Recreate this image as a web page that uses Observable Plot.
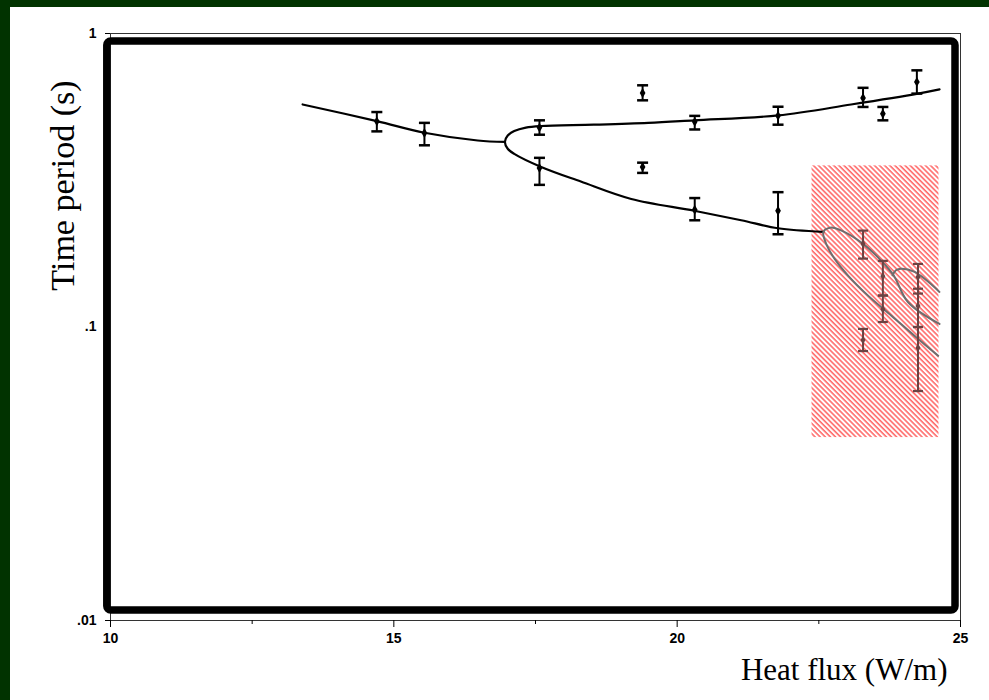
<!DOCTYPE html>
<html><head><meta charset="utf-8">
<script src="https://cdn.jsdelivr.net/npm/d3@7"></script>
<script src="https://cdn.jsdelivr.net/npm/@observablehq/plot@0.6"></script>
<style>
html,body{margin:0;padding:0;background:#013300;width:989px;height:700px;overflow:hidden;}
#panel{position:absolute;left:10px;top:7px;right:0;bottom:0;background:#fff;}
#chart{position:absolute;left:0;top:0;}
</style></head><body><div id="panel"></div><div id="chart"></div>
<script>
// ---- axis ticks ----
const xTicks = [10, 15, 20, 25];
const xMinorTicks = [12.5, 17.5, 22.5];
const yTicks = [0.01, 0.1, 1];
const yTickLabels = [".01", ".1", "1"];
const xLabel = "Heat flux (W/m)";
const yLabel = "Time period (s)";

// ---- single-period curve (before first bifurcation) ----
const stemX = [13.39, 14.70, 15.54, 16.48, 16.96];
const stemY = [0.573, 0.503, 0.459, 0.432, 0.427];

// ---- period-2 branches (upper end -> nose -> lower end) ----
const branchX = [24.63, 24.25, 23.07, 21.78, 20.30, 19.49, 18.53, 17.60, 17.33, 17.125, 17.01, 16.96, 17.01, 17.125, 17.60, 18.30, 19.19, 20.30, 21.13, 21.78, 22.58];
const branchY = [0.645, 0.624, 0.573, 0.526, 0.506, 0.496, 0.489, 0.484, 0.478, 0.465, 0.449, 0.427, 0.405, 0.389, 0.351, 0.313, 0.273, 0.249, 0.231, 0.217, 0.211];

// ---- period-4 loop (grey, inside shaded region) ----
const loopX = [24.606, 24.187, 23.781, 23.369, 23.016, 22.779, 22.64, 22.58, 22.70, 22.90, 23.281, 23.604, 23.82, 24.075, 24.629];
const loopY = [0.0798, 0.0934, 0.1093, 0.1279, 0.1497, 0.1707, 0.190, 0.211, 0.218, 0.213, 0.1920, 0.1680, 0.150, 0.1214, 0.1024];
const subX = [23.80, 23.86, 23.95, 24.19, 24.629];
const subY = [0.150, 0.156, 0.158, 0.1540, 0.1317];

// ---- measured points with error bars ----
const barX  = [14.70, 15.54, 17.57, 17.57, 19.39, 19.39, 20.31, 20.31, 21.78, 21.78, 23.28, 23.63, 24.23];
const barY  = [0.502, 0.458, 0.478, 0.348, 0.627, 0.351, 0.500, 0.251, 0.525, 0.249, 0.603, 0.533, 0.684];
const barLo = [0.464, 0.416, 0.452, 0.305, 0.592, 0.335, 0.471, 0.231, 0.489, 0.207, 0.562, 0.506, 0.624];
const barHi = [0.540, 0.496, 0.506, 0.377, 0.666, 0.363, 0.524, 0.275, 0.563, 0.288, 0.653, 0.562, 0.749];

// ---- points inside shaded region ----
const gBarX  = [23.28, 23.28, 23.63, 23.63, 24.25, 24.25, 24.25];
const gBarY  = [0.192, 0.0903, 0.149, 0.115, 0.148, 0.118, 0.085];
const gBarLo = [0.171, 0.0828, 0.128, 0.104, 0.130, 0.100, 0.0605];
const gBarHi = [0.213, 0.0985, 0.168, 0.128, 0.164, 0.135, 0.100];

// ---- shaded region ----
const shadeX = [22.38, 24.62];
const shadeY = [0.042, 0.354];

const pts = (xs, ys) => xs.map((x, i) => ({x, y: ys[i]}));
const bars = barX.map((x, i) => ({x, y: barY[i], lo: barLo[i], hi: barHi[i]}));
const gBars = gBarX.map((x, i) => ({x, y: gBarY[i], lo: gBarLo[i], hi: gBarHi[i]}));
const shade = [{x1: shadeX[0], x2: shadeX[1], y1: shadeY[0], y2: shadeY[1]}];

const cap = {draw(ctx, size) { const w = Math.sqrt(size / Math.PI); ctx.moveTo(-w, 0); ctx.lineTo(w, 0); }};
const grey = "#6b4343";
const serif = "Liberation Serif, Times New Roman, serif";

const chart = Plot.plot({
  width: 989, height: 700,
  marginLeft: 110, marginRight: 29, marginTop: 33, marginBottom: 80,
  x: {domain: [10, 25]},
  y: {type: "log", domain: [0.01, 1]},
  style: {background: "transparent", fontFamily: "Liberation Sans, Arial, sans-serif"},
  marks: [
    Plot.rect(shade, {x1: "x1", x2: "x2", y1: "y1", y2: "y2", fill: "url(#hatch)"}),
    Plot.frame({stroke: "#333", strokeWidth: 1}),
    Plot.frame({stroke: "black", strokeWidth: 7.5, rx: 4, insetLeft: -3.7, insetTop: 7.5, insetRight: 5.5, insetBottom: 10.5}),
    Plot.axisX({ticks: xTicks, tickSize: 7, tickPadding: 6, fontSize: 14, fontWeight: "bold", label: null}),
    Plot.axisX({ticks: xMinorTicks, tickSize: 4, tickFormat: () => "", label: null}),
    Plot.axisY({ticks: yTicks, tickFormat: d => yTickLabels[yTicks.indexOf(d)], tickSize: 5, tickPadding: 9, fontSize: 14, fontWeight: "bold", label: null}),
    Plot.line(pts(stemX, stemY), {x: "x", y: "y", curve: "catmull-rom", stroke: "black", strokeWidth: 2.2}),
    Plot.line(pts(branchX, branchY), {x: "x", y: "y", curve: "catmull-rom", stroke: "black", strokeWidth: 2.2}),
    Plot.line(pts(loopX, loopY), {x: "x", y: "y", curve: "catmull-rom", stroke: "#6e6e6e", strokeWidth: 2}),
    Plot.line(pts(subX, subY), {x: "x", y: "y", curve: "catmull-rom", stroke: "#6e6e6e", strokeWidth: 2}),
    Plot.ruleX(bars, {x: "x", y1: "lo", y2: "hi", stroke: "black", strokeWidth: 2}),
    Plot.dot(bars, {x: "x", y: "lo", symbol: cap, r: 5.5, fill: "none", stroke: "black", strokeWidth: 2.5}),
    Plot.dot(bars, {x: "x", y: "hi", symbol: cap, r: 5.5, fill: "none", stroke: "black", strokeWidth: 2.5}),
    Plot.dot(bars, {x: "x", y: "y", symbol: "diamond", r: 3, fill: "black", stroke: "none"}),
    Plot.ruleX(gBars, {x: "x", y1: "lo", y2: "hi", stroke: grey, strokeWidth: 2}),
    Plot.dot(gBars, {x: "x", y: "lo", symbol: cap, r: 5, fill: "none", stroke: grey, strokeWidth: 2.2}),
    Plot.dot(gBars, {x: "x", y: "hi", symbol: cap, r: 5, fill: "none", stroke: grey, strokeWidth: 2.2}),
    Plot.dot(gBars, {x: "x", y: "y", symbol: "diamond", r: 2.6, fill: grey, stroke: "none"}),
    Plot.text([yLabel], {text: d => d, frameAnchor: "top-left", textAnchor: "middle", lineAnchor: "middle", rotate: -90, dx: -47, dy: 152, fontSize: 34, fontFamily: serif, fill: "black"}),
    Plot.text([xLabel], {text: d => d, frameAnchor: "bottom-right", textAnchor: "end", lineAnchor: "middle", dx: -13, dy: 50, fontSize: 31, fontFamily: serif, fill: "black"})
  ]
});

const defs = d3.select(chart).insert("defs", ":first-child");
const pat = defs.append("pattern").attr("id", "hatch").attr("patternUnits", "userSpaceOnUse")
  .attr("width", 3.6).attr("height", 8).attr("patternTransform", "rotate(-45)");
pat.append("rect").attr("width", 3.6).attr("height", 8).attr("fill", "white");
pat.append("line").attr("x1", 1).attr("y1", 0).attr("x2", 1).attr("y2", 8).attr("stroke", "#ff6060").attr("stroke-width", 1.5);

document.getElementById("chart").appendChild(chart);
</script></body></html>
